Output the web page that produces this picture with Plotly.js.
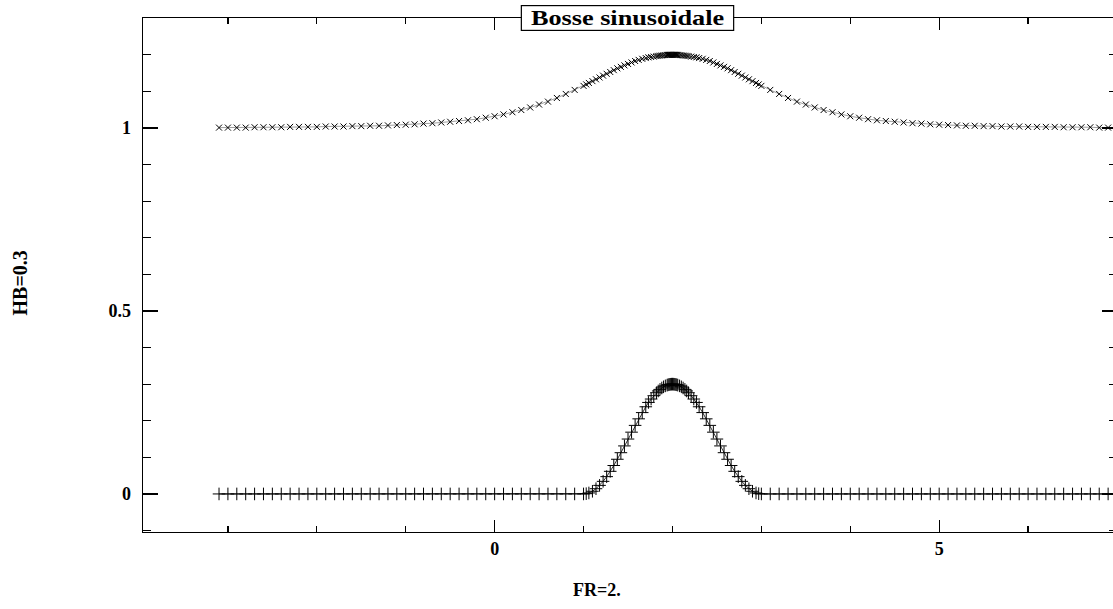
<!DOCTYPE html>
<html>
<head>
<meta charset="utf-8">
<script src="https://cdn.plot.ly/plotly-3.0.1.min.js"></script>
<style>
html,body{margin:0;padding:0;background:#fff;overflow:hidden;width:1113px;height:609px;}
#chart{width:1120px;height:609px;}
</style>
</head>
<body>
<div id="chart"></div>
<script>
// Mesh abscissae (shared by both curves)
var xMesh = [
 -3.1,-3.0,-2.9,-2.8,-2.7,-2.6,-2.5,-2.4,-2.3,-2.2,-2.1,-2.0,-1.9,-1.8,-1.7,-1.6,-1.5,-1.4,-1.3,-1.2,-1.1,-1.0,-0.9,-0.8,-0.7,-0.6,-0.5,-0.4,-0.3,-0.2,-0.1,0.0,0.1,0.2,0.3,0.4,0.5,0.6,0.7,0.8,0.9,
 1.00,1.03,1.06,1.10,1.14,1.18,1.22,1.26,1.30,1.34,1.38,1.42,1.46,1.50,1.54,1.58,1.62,1.66,1.70,1.73,1.76,1.79,1.82,1.84,1.86,1.88,1.90,1.92,1.94,1.95,1.96,1.97,1.98,1.99,2.00,
 2.01,2.02,2.03,2.04,2.05,2.06,2.08,2.10,2.12,2.14,2.16,2.18,2.21,2.24,2.27,2.30,2.34,2.38,2.42,2.46,2.50,2.54,2.58,2.62,2.66,2.70,2.74,2.78,2.82,2.86,2.90,2.94,2.97,3.00,
 3.1,3.2,3.3,3.4,3.5,3.6,3.7,3.8,3.9,4.0,4.1,4.2,4.3,4.4,4.5,4.6,4.7,4.8,4.9,5.0,5.1,5.2,5.3,5.4,5.5,5.6,5.7,5.8,5.9,6.0,6.1,6.2,6.3,6.4,6.5,6.6,6.7,6.8,6.9,7.0,7.1
];
// Bottom curve: the bump (HB = 0.3)
var yBump = [
 0,0,0,0,0,0,0,0,0,0,0,0,0,0,0,0,0,0,0,0,0,0,0,0,0,0,0,0,0,0,0,0,0,0,0,0,0,0,0,0,0,
 0,0.0007,0.0027,0.0073,0.0143,0.0234,0.0344,0.0473,0.0618,0.0777,0.0948,0.1127,0.1312,0.15,0.1688,0.1873,0.2052,0.2223,0.2382,0.25,0.2593,0.2684,0.2766,0.2814,0.2857,0.2895,0.2927,0.2953,0.2973,0.2982,0.2988,0.2993,0.2997,0.2999,0.3,
 0.2999,0.2997,0.2993,0.2988,0.2982,0.2973,0.2953,0.2927,0.2895,0.2857,0.2814,0.2766,0.2684,0.2593,0.25,0.2382,0.2223,0.2052,0.1873,0.1688,0.15,0.1312,0.1127,0.0948,0.0777,0.0618,0.0473,0.0344,0.0234,0.0143,0.0073,0.0027,0.0007,0,
 0,0,0,0,0,0,0,0,0,0,0,0,0,0,0,0,0,0,0,0,0,0,0,0,0,0,0,0,0,0,0,0,0,0,0,0,0,0,0,0,0
];
// Top curve: free surface
var ySurface = [
 1.001,1.001,1.001,1.001,1.002,1.002,1.002,1.002,1.003,1.003,1.003,1.003,1.004,1.004,1.004,1.005,1.005,1.006,1.006,1.007,1.008,1.009,1.010,1.012,1.013,1.015,1.017,1.019,1.021,1.024,1.028,1.032,1.037,1.043,1.049,1.056,1.064,1.072,1.082,1.093,1.104,
 1.115,1.119,1.123,1.128,1.133,1.138,1.143,1.148,1.153,1.158,1.163,1.167,1.171,1.175,1.179,1.183,1.186,1.189,1.191,1.193,1.194,1.195,1.1965,1.197,1.1975,1.198,1.199,1.1993,1.1996,1.1997,1.1998,1.1999,1.2,1.2,1.2,
 1.2,1.2,1.1999,1.1998,1.1997,1.1996,1.1993,1.199,1.198,1.1975,1.197,1.1965,1.195,1.194,1.193,1.191,1.189,1.186,1.183,1.179,1.175,1.171,1.167,1.163,1.158,1.153,1.148,1.143,1.138,1.133,1.128,1.123,1.119,1.115,
 1.104,1.093,1.082,1.072,1.064,1.056,1.049,1.043,1.037,1.032,1.028,1.024,1.021,1.019,1.017,1.015,1.013,1.012,1.010,1.009,1.008,1.007,1.006,1.006,1.005,1.005,1.004,1.004,1.004,1.003,1.003,1.003,1.003,1.002,1.002,1.002,1.002,1.001,1.001,1.001,1.001
];
var yTickVals = [0, 0.5, 1];
var yTickText = ['0', '0.5', '1'];
var xTickVals = [0, 5];
var xTickText = ['0', '5'];
var chartTitle = 'Bosse sinusoidale';
var xTitle = 'FR=2.';
var yTitle = 'HB=0.3';

var serif = 'Liberation Serif, Times New Roman, serif';

var traces = [
  {
    x: xMesh, y: ySurface, type: 'scatter', mode: 'lines+markers',
    line: {color: 'rgba(0,0,0,0.55)', width: 0.7},
    marker: {symbol: 'x-thin', size: 6, line: {color: '#000', width: 1}},
    cliponaxis: true, hoverinfo: 'skip'
  },
  {
    x: xMesh, y: yBump, type: 'scatter', mode: 'lines+markers',
    line: {color: '#000', width: 0.8},
    marker: {symbol: 'cross-thin', size: 9, line: {color: '#000', width: 1}},
    cliponaxis: true, hoverinfo: 'skip'
  }
];

var layout = {
  width: 1120, height: 609,
  margin: {l: 143, r: 3, t: 18, b: 77},
  paper_bgcolor: '#fff', plot_bgcolor: '#fff',
  showlegend: false,
  xaxis: {
    range: [-3.955, 7.0],
    showgrid: false, zeroline: false,
    showline: true, linecolor: '#000', linewidth: 1.3, mirror: 'ticks',
    ticks: 'inside', ticklen: 12, tickwidth: 1.3, tickcolor: '#000',
    tickmode: 'array', tickvals: xTickVals, ticktext: xTickText,
    ticklabelstandoff: 0,
    tickfont: {family: serif, size: 18, color: '#000', weight: 'bold'},
    minor: {dtick: 1, tick0: 0, ticks: 'inside', ticklen: 6, tickwidth: 1.2, tickcolor: '#000', showgrid: false}
  },
  yaxis: {
    range: [-0.104, 1.3005],
    showgrid: false, zeroline: false,
    showline: true, linecolor: '#000', linewidth: 1.3, mirror: 'ticks',
    ticks: 'inside', ticklen: 15, tickwidth: 1.3, tickcolor: '#000',
    tickmode: 'array', tickvals: yTickVals, ticktext: yTickText,
    ticklabelstandoff: 7,
    tickfont: {family: serif, size: 18, color: '#000', weight: 'bold'},
    minor: {dtick: 0.1, tick0: 0, ticks: 'inside', ticklen: 8, tickwidth: 1.2, tickcolor: '#000', showgrid: false}
  },
  annotations: [
    {
      text: '<b>' + chartTitle + '</b>', xref: 'paper', yref: 'paper',
      x: 0.497, y: 1.0, xanchor: 'center', yanchor: 'middle', showarrow: false,
      font: {family: serif, size: 21, color: '#000'},
      bgcolor: '#fff', bordercolor: '#000', borderwidth: 1.2, borderpad: 0
    },
    {
      text: '<b>' + xTitle + '</b>', xref: 'paper', yref: 'paper',
      x: 0.466, y: -0.113, xanchor: 'center', yanchor: 'middle', showarrow: false,
      font: {family: serif, size: 18, color: '#000'}
    },
    {
      text: '<b>' + yTitle + '</b>', xref: 'paper', yref: 'paper',
      x: -0.126, y: 0.484, xanchor: 'center', yanchor: 'middle', showarrow: false,
      textangle: -90,
      font: {family: serif, size: 20, color: '#000'}
    }
  ]
};

Plotly.newPlot('chart', traces, layout, {displayModeBar: false, staticPlot: true}).then(function () {
  // widen the boxed title horizontally to match the reference lettering
  var g = document.querySelector('.annotation[data-index="0"]');
  if (!g) return;
  var txt = g.querySelector('text.annotation-text');
  var rect = g.querySelector('rect.bg');
  if (!txt || !rect) return;
  var bb = txt.getBBox();
  var cx = bb.x + bb.width / 2;
  var s = 1.25;
  txt.setAttribute('transform', 'translate(' + cx + ',0) scale(' + s + ',1) translate(' + (-cx) + ',0)');
  var rx = parseFloat(rect.getAttribute('x')) || 0;
  var rw = parseFloat(rect.getAttribute('width')) || 0;
  var rcx = rx + rw / 2;
  var nw = bb.width * s + 19;
  rect.setAttribute('x', rcx - nw / 2);
  rect.setAttribute('width', nw);
});
</script>
</body>
</html>
